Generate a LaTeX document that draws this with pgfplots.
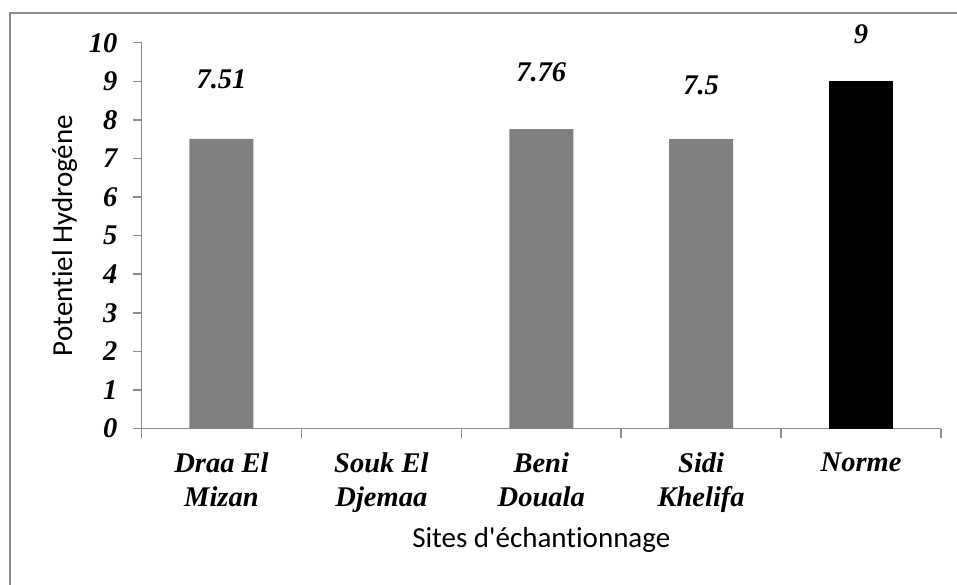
\documentclass[border=0pt]{standalone}
\usepackage{fontspec}
\setmainfont{Liberation Serif}
\newfontfamily\calib[RawFeature={-liga,-clig,-dlig}]{Carlito}
\usepackage{pgfplots}
\usepackage{pgfplotstable}
\pgfplotsset{compat=1.18}
\definecolor{axgray}{HTML}{8C8C8C}
\definecolor{bargray}{HTML}{808080}
\pgfplotstableread{
x y off lab
0 7.51 50 7.51
2 7.76 48 7.76
3 7.5 45 7.5
}\sites
\pgfplotstableread{
x y off lab
4 9 38 9
}\norme
\begin{document}
\begin{tikzpicture}[x=1pt,y=1pt]
\useasboundingbox (0,0) rectangle (957,584);
\draw[axgray, line width=1.6pt] (10,-2) -- (10,571) -- (960,571);
\begin{axis}[
  at={(141.5pt,155.5pt)}, anchor=south west,
  scale only axis, width=799.5pt, height=385.8pt,
  xmin=-0.5, xmax=4.5, ymin=0, ymax=10,
  axis x line*=bottom, axis y line*=left,
  axis line style={axgray, line width=1.5pt, -},
  every tick/.style={axgray, line width=1.5pt},
  tick align=outside, major tick length=9pt,
  xtick={-0.5,0.5,1.5,2.5,3.5,4.5},
  x tick label as interval,
  xticklabels={{Draa El\\Mizan},{Souk El\\Djemaa},{Beni\\Douala},{Sidi\\Khelifa},{Norme}},
  xticklabel style={anchor=north, inner sep=0pt, yshift=-15pt, align=center,
    font=\fontsize{28.5}{34.5}\selectfont\bfseries\itshape},
  ytick={0,1,...,10},
  yticklabels={0,1,2,3,4,5,6,7,8,9,10},
  /pgf/number format/assume math mode=true,
  yticklabel style={anchor=east, inner sep=0pt, xshift=-15pt,
    font=\fontsize{28.5}{34}\selectfont\bfseries\itshape},
  ylabel={Potentiel Hydrogéne},
  ylabel style={at={(axis description cs:-0.0869,0.5)}, anchor=base, rotate=0,
    font=\fontsize{29}{34}\selectfont\calib},
  xlabel={Sites d'échantionnage},
  xlabel style={at={(axis description cs:0.5,-0.3097)}, anchor=base,
    font=\fontsize{29}{34}\selectfont\calib},
  ybar, bar width=64pt,
  nodes near coords,
  point meta=explicit symbolic,
  visualization depends on={\thisrow{off}\as\myoff},
  every node near coord/.append style={anchor=base, inner sep=0pt, yshift=\myoff pt,
    font=\fontsize{28.5}{34}\selectfont\bfseries\itshape, text=black},
]
\addplot[fill=bargray, draw=none, bar shift=0pt] table[x=x, y=y, meta=lab] {\sites};
\addplot[fill=black, draw=none, bar shift=0pt] table[x=x, y=y, meta=lab] {\norme};
\end{axis}
\end{tikzpicture}
\end{document}
